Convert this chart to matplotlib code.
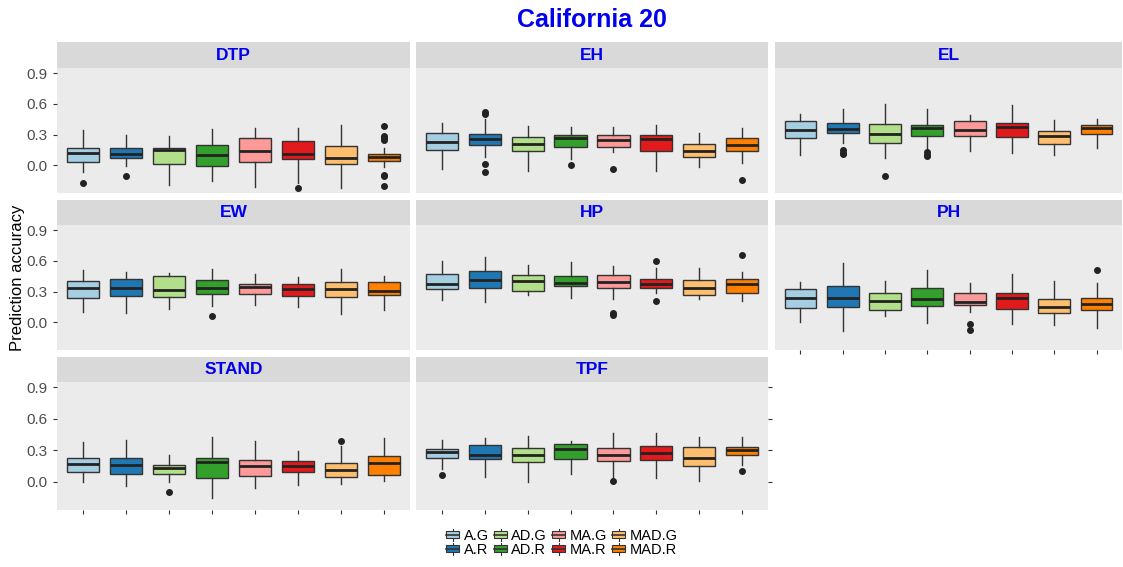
import numpy as np
import matplotlib
matplotlib.use("Agg")
import matplotlib.pyplot as plt
from matplotlib.patches import Rectangle
from matplotlib.lines import Line2D

plt.rcParams['font.family'] = ['Liberation Sans', 'DejaVu Sans']

groups = ["A.G", "A.R", "AD.G", "AD.R", "MA.G", "MA.R", "MAD.G", "MAD.R"]
colors = ["#A6CEE3", "#1F78B4", "#B2DF8A", "#33A02C",
          "#FB9A99", "#E31A1C", "#FDBF6F", "#FF7F00"]
facets = ["DTP", "EH", "EL", "EW", "HP", "PH", "STAND", "TPF"]

# box stats: (whisker low, q1, median, q3, whisker high)
dtp = [(-0.065, 0.033, 0.124, 0.166, 0.345), (-0.007, 0.068, 0.114, 0.166, 0.30),
       (-0.19, 0.015, 0.145, 0.165, 0.283), (-0.15, -0.003, 0.098, 0.202, 0.352),
       (-0.209, 0.029, 0.137, 0.264, 0.362), (-0.176, 0.059, 0.114, 0.241, 0.362),
       (-0.225, 0.01, 0.068, 0.192, 0.394), (-0.02, 0.042, 0.078, 0.108, 0.17)]
dtp_out = [[-0.176], [-0.104], [], [], [], [-0.218], [], [0.38, 0.29, 0.27, 0.25, -0.09, -0.10, -0.2]]

eh = [(-0.036, 0.153, 0.228, 0.316, 0.41), (0.085, 0.195, 0.254, 0.303, 0.45),
      (-0.055, 0.137, 0.205, 0.28, 0.384), (0.065, 0.182, 0.264, 0.297, 0.378),
      (0.13, 0.176, 0.244, 0.297, 0.378), (-0.055, 0.137, 0.254, 0.297, 0.394),
      (-0.013, 0.081, 0.14, 0.205, 0.32), (0.02, 0.137, 0.202, 0.267, 0.368)]
eh_out = [[], [0.5, 0.52, 0.01, -0.068], [], [0.0], [-0.036], [], [], [-0.143]]

el = [(0.10, 0.264, 0.345, 0.433, 0.502), (0.222, 0.313, 0.358, 0.417, 0.55),
      (0.068, 0.218, 0.306, 0.40, 0.60), (0.15, 0.287, 0.362, 0.397, 0.547),
      (0.143, 0.287, 0.349, 0.43, 0.489), (0.124, 0.28, 0.378, 0.41, 0.59),
      (0.098, 0.205, 0.29, 0.339, 0.443), (0.166, 0.306, 0.368, 0.397, 0.453)]
el_out = [[], [0.15, 0.12, 0.11], [-0.104], [0.13, 0.10, 0.09], [], [], [], []]

ew = [(0.10, 0.234, 0.333, 0.406, 0.508), (0.089, 0.254, 0.333, 0.419, 0.488),
      (0.13, 0.25, 0.314, 0.449, 0.478), (0.155, 0.28, 0.337, 0.409, 0.518),
      (0.165, 0.274, 0.34, 0.37, 0.472), (0.149, 0.257, 0.323, 0.373, 0.439),
      (0.083, 0.25, 0.327, 0.396, 0.521), (0.125, 0.267, 0.31, 0.396, 0.455)]
ew_out = [[], [], [], [0.063], [], [], [], []]

hp = [(0.215, 0.327, 0.376, 0.472, 0.594), (0.20, 0.333, 0.413, 0.498, 0.64),
      (0.267, 0.31, 0.40, 0.459, 0.561), (0.238, 0.353, 0.386, 0.452, 0.587),
      (0.224, 0.333, 0.393, 0.462, 0.554), (0.284, 0.337, 0.373, 0.419, 0.53),
      (0.231, 0.267, 0.333, 0.413, 0.528), (0.208, 0.29, 0.37, 0.426, 0.492)]
hp_out = [[], [], [], [], [0.09, 0.076], [0.594, 0.205], [], [0.653]]

ph = [(0.003, 0.142, 0.241, 0.323, 0.389), (-0.083, 0.152, 0.241, 0.353, 0.581),
      (0.066, 0.119, 0.208, 0.284, 0.406), (-0.007, 0.162, 0.228, 0.333, 0.508),
      (0.099, 0.165, 0.201, 0.284, 0.386), (-0.013, 0.135, 0.234, 0.284, 0.475),
      (-0.023, 0.092, 0.149, 0.231, 0.406), (-0.056, 0.119, 0.182, 0.238, 0.383)]
ph_out = [[], [], [], [], [-0.017, -0.073], [], [], [0.512]]

stand = [(0.0, 0.095, 0.173, 0.228, 0.375), (-0.046, 0.072, 0.16, 0.222, 0.395),
         (-0.007, 0.075, 0.13, 0.163, 0.251), (-0.157, 0.033, 0.186, 0.225, 0.424),
         (-0.065, 0.055, 0.147, 0.202, 0.388), (-0.033, 0.091, 0.147, 0.196, 0.29),
         (-0.026, 0.046, 0.114, 0.179, 0.342), (0.007, 0.062, 0.176, 0.248, 0.417)]
stand_out = [[], [], [-0.10], [], [], [], [0.391], []]

tpf = [(0.124, 0.222, 0.287, 0.316, 0.398), (0.049, 0.215, 0.254, 0.346, 0.417),
       (-0.007, 0.186, 0.251, 0.323, 0.44), (0.075, 0.212, 0.313, 0.355, 0.391),
       (0.023, 0.196, 0.258, 0.323, 0.46), (0.039, 0.209, 0.271, 0.336, 0.46),
       (0.007, 0.147, 0.228, 0.326, 0.43), (0.163, 0.251, 0.303, 0.329, 0.43)]
tpf_out = [[0.059], [], [], [], [0.007], [], [], [0.101]]

all_stats = [dtp, eh, el, ew, hp, ph, stand, tpf]
all_out = [dtp_out, eh_out, el_out, ew_out, hp_out, ph_out, stand_out, tpf_out]
yticks = [0.0, 0.3, 0.6, 0.9]

W, H = 1123, 567
fig = plt.figure(figsize=(W / 100, H / 100), dpi=100)

col_x = [(57, 410), (416, 768), (775, 1122)]
row_y = [(42, 68, 193), (200, 225, 350), (357, 382, 510)]
edge = "#333333"

for k, name in enumerate(facets):
    r, c = divmod(k, 3)
    x0, x1 = col_x[c]
    ys, yp, yb = row_y[r]
    ax = fig.add_axes([x0 / W, 1 - yb / H, (x1 - x0) / W, (yb - yp) / H])
    sax = fig.add_axes([x0 / W, 1 - yp / H, (x1 - x0) / W, (yp - ys) / H])
    sax.set_facecolor("#D9D9D9")
    sax.set_xticks([]); sax.set_yticks([])
    for s in sax.spines.values():
        s.set_visible(False)
    sax.text(0.5, 0.5, name, color="#0000EE", fontsize=12.5, fontweight="bold",
             ha="center", va="center", transform=sax.transAxes)

    bstats = []
    for (lo, q1, med, q3, hi), fl in zip(all_stats[k], all_out[k]):
        bstats.append(dict(whislo=lo, q1=q1, med=med, q3=q3, whishi=hi, fliers=fl))
    bp = ax.bxp(bstats, positions=range(1, 9), widths=0.75, patch_artist=True,
                showcaps=False,
                boxprops=dict(edgecolor=edge, linewidth=1.0),
                whiskerprops=dict(color=edge, linewidth=1.0),
                medianprops=dict(color="#222222", linewidth=2.0),
                flierprops=dict(marker="o", markersize=4, markerfacecolor="#222222",
                                markeredgecolor="#222222"))
    for patch, col in zip(bp["boxes"], colors):
        patch.set_facecolor(col)

    ax.set_facecolor("#EBEBEB")
    ax.set_xlim(0.4, 8.6)
    ax.set_ylim(-0.27, 0.95)
    for s in ax.spines.values():
        s.set_visible(False)
    ax.set_yticks(yticks)
    ax.tick_params(axis="y", length=3, color="#333333", labelsize=11, labelcolor="#4D4D4D")
    ax.set_yticklabels(["0.0", "0.3", "0.6", "0.9"] if c == 0 else [])
    if c != 0:
        ax.tick_params(axis="y", left=False)
    ax.set_xticks(range(1, 9))
    ax.set_xticklabels([])
    if r == 2 or (r == 1 and c == 2):
        ax.tick_params(axis="x", length=3, color="#333333")
    else:
        ax.tick_params(axis="x", length=0)
    if name == "TPF":
        ax.tick_params(axis="y", left=False, right=True, length=3, color="#333333")

fig.text(592 / W, 1 - 20 / H, "California 20", color="#0000EE", fontsize=18,
         fontweight="bold", ha="center", va="center")
fig.text(18 / W, 1 - 278 / H, "Prediction accuracy", rotation=90, fontsize=12,
         ha="center", va="center")


class BoxHandler:
    def legend_artist(self, legend, orig_handle, fontsize, handlebox):
        x0, y0 = handlebox.xdescent, handlebox.ydescent
        w, h = handlebox.width, handlebox.height
        col = orig_handle.get_facecolor()
        rect = Rectangle((x0, y0 + h * 0.15), w, h * 0.7,
                         facecolor=col, edgecolor=edge, lw=0.8,
                         transform=handlebox.get_transform())
        wl = Line2D([x0 + w / 2, x0 + w / 2], [y0 - h * 0.1, y0 + h * 1.1], color=edge, lw=0.8,
                    transform=handlebox.get_transform())
        ml = Line2D([x0, x0 + w], [y0 + h / 2, y0 + h / 2], color=edge, lw=1.2,
                    transform=handlebox.get_transform())
        handlebox.add_artist(wl)
        handlebox.add_artist(rect)
        handlebox.add_artist(ml)
        return rect


handles = [Rectangle((0, 0), 1, 1, facecolor=c) for c in colors]
fig.legend(handles, groups, ncol=4, loc="center", bbox_to_anchor=(562 / W, 1 - 543 / H),
           frameon=False, fontsize=10.5, handlelength=0.9, handleheight=0.7,
           handletextpad=0.3, columnspacing=0.35, labelspacing=0.0,
           handler_map={Rectangle: BoxHandler()})

fig.savefig("out.png", dpi=100)
